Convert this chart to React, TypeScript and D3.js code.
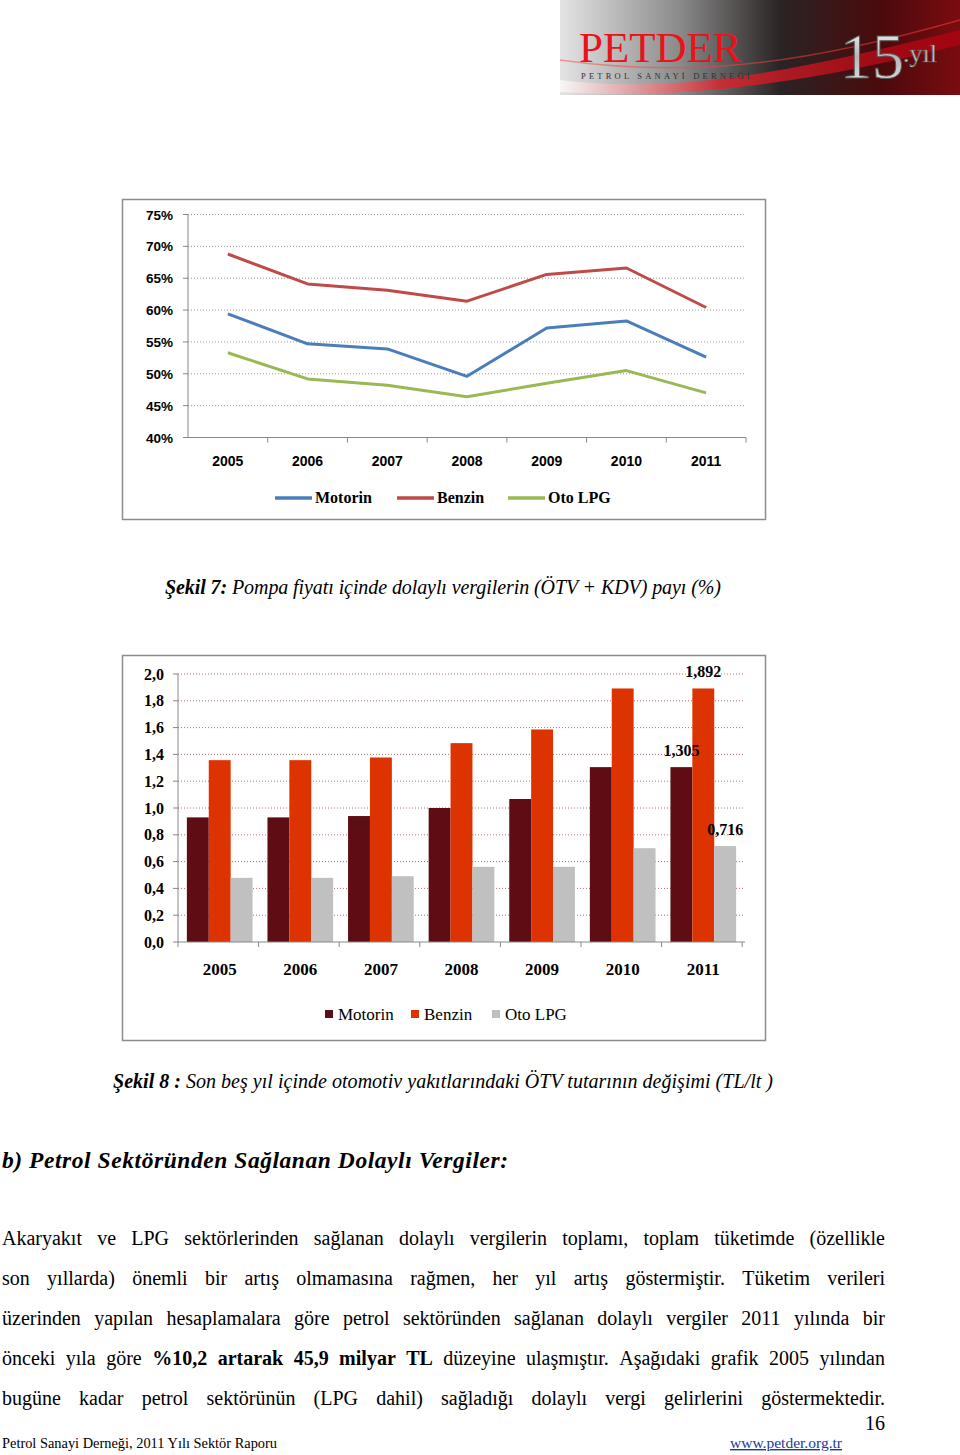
import React, { useEffect, useRef } from 'react';
import * as d3 from 'd3';

// chart 1: share of indirect taxes in pump price (%)
const YEARS = ['2005', '2006', '2007', '2008', '2009', '2010', '2011'];
const SHARE_MOTORIN = [59.4, 54.7, 53.9, 49.6, 57.2, 58.3, 52.6];
const SHARE_BENZIN = [68.8, 64.1, 63.1, 61.4, 65.6, 66.6, 60.4];
const SHARE_LPG = [53.3, 49.2, 48.2, 46.4, 48.5, 50.5, 47.0];
const SHARE_TICKS = [40, 45, 50, 55, 60, 65, 70, 75];

// chart 2: special consumption tax amount (TL/lt)
const OTV_MOTORIN = [0.93, 0.93, 0.94, 1.0, 1.067, 1.305, 1.305];
const OTV_BENZIN = [1.357, 1.357, 1.377, 1.484, 1.586, 1.892, 1.892];
const OTV_LPG = [0.479, 0.479, 0.491, 0.561, 0.561, 0.7, 0.716];
const OTV_TICKS = [0, 0.2, 0.4, 0.6, 0.8, 1.0, 1.2, 1.4, 1.6, 1.8, 2.0];

const PARAGRAPH = [
  'Akaryakıt ve LPG sektörlerinden sağlanan dolaylı vergilerin toplamı, toplam tüketimde (özellikle',
  'son yıllarda) önemli bir artış olmamasına rağmen, her yıl artış göstermiştir. Tüketim verileri',
  'üzerinden yapılan hesaplamalara göre petrol sektöründen sağlanan dolaylı vergiler 2011 yılında bir',
  'önceki yıla göre *%10,2 *artarak *45,9 *milyar *TL düzeyine ulaşmıştır. Aşağıdaki grafik 2005 yılından',
  'bugüne kadar petrol sektörünün (LPG dahil) sağladığı dolaylı vergi gelirlerini göstermektedir.',
];

const serif = '"Liberation Serif", "Times New Roman", serif';
const sans = '"Liberation Sans", Arial, sans-serif';

const LINE_SERIES = [
  { name: 'Motorin', values: SHARE_MOTORIN, color: '#4a7ebb' },
  { name: 'Benzin', values: SHARE_BENZIN, color: '#be4b48' },
  { name: 'Oto LPG', values: SHARE_LPG, color: '#98b954' },
];
const BAR_SERIES = [
  { name: 'Motorin', values: OTV_MOTORIN, color: '#5e0d14' },
  { name: 'Benzin', values: OTV_BENZIN, color: '#dd3300' },
  { name: 'Oto LPG', values: OTV_LPG, color: '#c0c0c0' },
];

const LineChart = () => {
  const x = d3.scaleBand().domain(YEARS).range([188, 746]);
  const y = d3.scaleLinear().domain([40, 75]).range([437.5, 214.5]);
  const line = d3.line<number>()
    .x((_, i) => (x(YEARS[i]) as number) + x.bandwidth() / 2)
    .y(d => y(d));
  const legendX = [275, 397, 508];
  return (
    <g>
      <rect x={122.5} y={199.5} width={643} height={320} fill="#fff" stroke="#8c8c8c" strokeWidth={1.5} />
      {SHARE_TICKS.map(t => (
        <g key={t}>
          {t > 40 && <line x1={188} x2={746} y1={y(t)} y2={y(t)} stroke="#9a9a9a" strokeDasharray="1,2" />}
          <line x1={183} x2={188} y1={y(t)} y2={y(t)} stroke="#888" />
          <text x={173} y={y(t) + 5} textAnchor="end" fontFamily={sans} fontWeight="bold" fontSize={13.5}>{t}%</text>
        </g>
      ))}
      <line x1={188} x2={188} y1={y(75)} y2={y(40)} stroke="#888" />
      <line x1={188} x2={746} y1={y(40)} y2={y(40)} stroke="#888" />
      {YEARS.map(yr => (
        <g key={yr}>
          <line x1={(x(yr) as number) + x.bandwidth()} x2={(x(yr) as number) + x.bandwidth()} y1={y(40)} y2={y(40) + 5} stroke="#888" />
          <text x={(x(yr) as number) + x.bandwidth() / 2} y={466} textAnchor="middle" fontFamily={sans} fontWeight="bold" fontSize={14}>{yr}</text>
        </g>
      ))}
      {LINE_SERIES.map(s => (
        <path key={s.name} d={line(s.values) as string} fill="none" stroke={s.color} strokeWidth={3} strokeLinejoin="round" />
      ))}
      {LINE_SERIES.map((s, i) => (
        <g key={s.name}>
          <line x1={legendX[i]} x2={legendX[i] + 37} y1={498} y2={498} stroke={s.color} strokeWidth={3.5} />
          <text x={legendX[i] + 40} y={503} fontFamily={serif} fontWeight="bold" fontSize={16}>{s.name}</text>
        </g>
      ))}
    </g>
  );
};

const fmt = (v: number, d: number) => v.toFixed(d).replace('.', ',');

const BarChart = () => {
  const x0 = d3.scaleBand().domain(YEARS).range([178, 745]).paddingInner(0.185).paddingOuter(0.11);
  const x1 = d3.scaleBand().domain(BAR_SERIES.map(s => s.name)).range([0, x0.bandwidth()]);
  const y = d3.scaleLinear().domain([0, 2]).range([942, 674]);
  const step = x0.step();
  const legendX = [325, 411, 492];
  const last = YEARS.length - 1;
  return (
    <g>
      <rect x={122.5} y={655.5} width={643} height={385} fill="#fff" stroke="#8c8c8c" strokeWidth={1.5} />
      {OTV_TICKS.map(t => (
        <g key={t}>
          {t > 0 && <line x1={178} x2={745} y1={y(t)} y2={y(t)} stroke="#b07070" strokeDasharray="1,2" />}
          <line x1={173} x2={178} y1={y(t)} y2={y(t)} stroke="#888" />
          <text x={164} y={y(t) + 5.5} textAnchor="end" fontFamily={serif} fontWeight="bold" fontSize={16}>{fmt(t, 1)}</text>
        </g>
      ))}
      {YEARS.map((yr, i) => (
        <g key={yr}>
          {BAR_SERIES.map(s => (
            <rect key={s.name} x={(x0(yr) as number) + (x1(s.name) as number)} width={x1.bandwidth()}
              y={y(s.values[i])} height={y(0) - y(s.values[i])} fill={s.color} />
          ))}
          <line x1={178 + step * (i + 1)} x2={178 + step * (i + 1)} y1={942} y2={947} stroke="#888" />
          <text x={(x0(yr) as number) + x0.bandwidth() / 2} y={975} textAnchor="middle" fontFamily={serif} fontWeight="bold" fontSize={17}>{yr}</text>
        </g>
      ))}
      <line x1={178} x2={178} y1={y(2)} y2={y(0)} stroke="#888" />
      <line x1={178} x2={178} y1={942} y2={947} stroke="#888" />
      <line x1={178} x2={745} y1={y(0)} y2={y(0)} stroke="#888" />
      {BAR_SERIES.map(s => {
        const cx = (x0(YEARS[last]) as number) + (x1(s.name) as number) + x1.bandwidth() / 2;
        return (
          <text key={s.name} x={cx} y={y(s.values[last]) - 11} textAnchor="middle" fontFamily={serif} fontWeight="bold" fontSize={16}>
            {fmt(s.values[last], 3)}
          </text>
        );
      })}
      {BAR_SERIES.map((s, i) => (
        <g key={s.name}>
          <rect x={legendX[i]} y={1010} width={8} height={8} fill={s.color} />
          <text x={legendX[i] + 13} y={1020} fontFamily={serif} fontSize={17}>{s.name}</text>
        </g>
      ))}
    </g>
  );
};

const Header = () => (
  <g>
    <defs>
      <linearGradient id="hdr" x1="0" x2="1" y1="0" y2="0">
        <stop offset="0" stopColor="#e4e4e4" />
        <stop offset="0.3" stopColor="#8a8a8a" />
        <stop offset="0.55" stopColor="#2a2424" />
        <stop offset="0.8" stopColor="#4a0a0c" />
        <stop offset="1" stopColor="#7a0c10" />
      </linearGradient>
      <linearGradient id="swoosh" x1="0" x2="1" y1="0" y2="0">
        <stop offset="0" stopColor="#ffffff" stopOpacity="0.7" />
        <stop offset="0.4" stopColor="#e0202a" stopOpacity="0.8" />
        <stop offset="1" stopColor="#c00010" stopOpacity="0.6" />
      </linearGradient>
      <linearGradient id="silver" x1="0" x2="0" y1="0" y2="1">
        <stop offset="0" stopColor="#ffffff" />
        <stop offset="0.5" stopColor="#b8b8b8" />
        <stop offset="1" stopColor="#e8e8e8" />
      </linearGradient>
    </defs>
    <rect x={560} y={0} width={400} height={95} fill="url(#hdr)" />
    <path d="M560,80 C680,95 800,70 960,30 L960,45 C800,85 680,100 560,92 Z" fill="url(#swoosh)" />
    <path d="M560,60 C700,80 820,60 960,20" fill="none" stroke="#ff4040" strokeOpacity={0.5} strokeWidth={1.5} />
    <text x={579} y={62} fontFamily={serif} fontSize={43} fill="#e8141c">PETDER</text>
    <text x={581} y={79} fontFamily={serif} fontSize={8.5} fill="#333" letterSpacing={3.2}>PETROL SANAYİ DERNEĞİ</text>
    <text x={840} y={78} fontFamily={serif} fontSize={64} fill="url(#silver)" stroke="#555" strokeWidth={1}>15</text>
    <text x={903} y={62} fontFamily={serif} fontSize={26} fill="url(#silver)" stroke="#555" strokeWidth={0.6}>.yıl</text>
  </g>
);

export default function App() {
  const paraRef = useRef<SVGGElement>(null);

  useEffect(() => {
    if (!paraRef.current) return;
    const g = d3.select(paraRef.current);
    g.selectAll('*').remove();
    const x0 = 2;
    const x1 = 885;
    PARAGRAPH.forEach((ln, i) => {
      const words = ln.split(' ').map(w => ({ t: w.replace(/^\*/, ''), b: w.startsWith('*') }));
      const nodes = words.map(w =>
        g.append('text')
          .attr('y', 1245 + i * 40)
          .style('font-family', serif)
          .style('font-size', '20px')
          .style('font-weight', w.b ? 'bold' : 'normal')
          .text(w.t)
      );
      const widths = nodes.map(n => (n.node() as SVGTextElement).getComputedTextLength());
      const total = d3.sum(widths);
      const gap = (x1 - x0 - total) / (nodes.length - 1);
      let cx = x0;
      nodes.forEach((n, k) => {
        n.attr('x', cx);
        cx += widths[k] + gap;
      });
    });
  }, []);

  return (
    <svg width={960} height={1455} style={{ position: 'absolute', left: 0, top: 0, background: '#fff' }}>
      <rect width={960} height={1455} fill="#fff" />
      <Header />
      <LineChart />
      <text x={165} y={594} fontFamily={serif} fontStyle="italic" fontSize={20} textLength={556} lengthAdjust="spacing">
        <tspan fontWeight="bold">Şekil 7:</tspan> Pompa fiyatı içinde dolaylı vergilerin (ÖTV + KDV) payı (%)
      </text>
      <BarChart />
      <text x={113} y={1088} fontFamily={serif} fontStyle="italic" fontSize={20} textLength={660} lengthAdjust="spacing">
        <tspan fontWeight="bold">Şekil 8 :</tspan> Son beş yıl içinde otomotiv yakıtlarındaki ÖTV tutarının değişimi (TL/lt )
      </text>
      <text x={2} y={1168} fontFamily={serif} fontStyle="italic" fontWeight="bold" fontSize={23.5} textLength={506} lengthAdjust="spacing">
        b) Petrol Sektöründen Sağlanan Dolaylı Vergiler:
      </text>
      <g ref={paraRef} />
      <text x={885} y={1430} textAnchor="end" fontFamily={serif} fontSize={20}>16</text>
      <text x={2} y={1448} fontFamily={serif} fontSize={14} textLength={275} lengthAdjust="spacingAndGlyphs">
        Petrol Sanayi Derneği, 2011 Yılı Sektör Raporu
      </text>
      <text x={730} y={1448} fontFamily={serif} fontSize={14} fill="#1a3a9a" textDecoration="underline" textLength={112} lengthAdjust="spacingAndGlyphs">
        www.petder.org.tr
      </text>
    </svg>
  );
}
